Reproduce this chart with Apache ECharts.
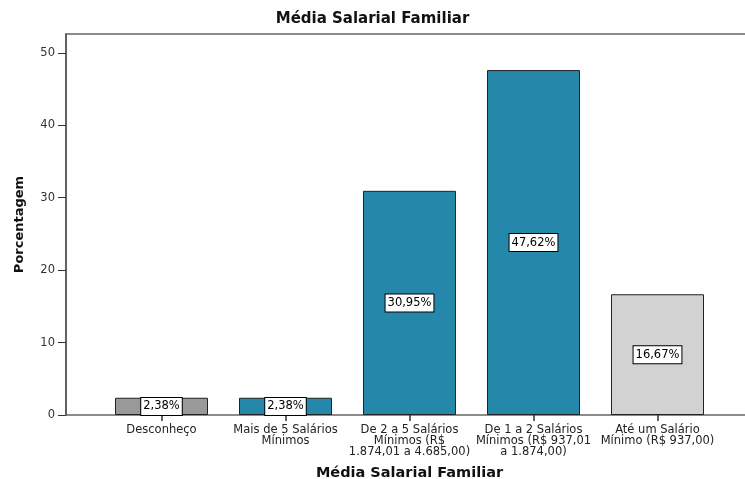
<!DOCTYPE html>
<html>
<head>
<meta charset="utf-8">
<script src="https://cdn.jsdelivr.net/npm/echarts@6/dist/echarts.min.js"></script>
<style>html,body{margin:0;padding:0;background:#fff}#c{width:745px;height:479px}</style>
</head>
<body>
<div id="c"></div>
<script>
const categories = [
  "Desconheço",
  "Mais de 5 Salários\nMínimos",
  "De 2 a 5 Salários\nMínimos (R$\n1.874,01 a 4.685,00)",
  "De 1 a 2 Salários\nMínimos (R$ 937,01\na 1.874,00)",
  "Até um Salário\nMínimo (R$ 937,00)"
];
const values = [2.38, 2.38, 30.95, 47.62, 16.67];
const yTicks = { min: 0, max: 52.6, interval: 10 };

const barColors = ["#999999", "#2588AA", "#2588AA", "#2588AA", "#D2D2D2"];
const font = "'DejaVu Sans', Arial, sans-serif";

const chart = echarts.init(document.getElementById('c'), null, { renderer: 'canvas' });
chart.setOption({
  animation: false,
  backgroundColor: '#ffffff',
  title: {
    text: 'Média Salarial Familiar',
    left: 'center', top: 7,
    textStyle: { fontFamily: font, fontSize: 15, fontWeight: 'bold', color: '#111' }
  },
  grid: [
    { left: 66, top: 34, width: 700, height: 381, show: true, borderColor: '#666', borderWidth: 1.5, backgroundColor: 'transparent', outerBoundsMode: 'none', containLabel: false },
    { left: 99.5, top: 34, width: 620, height: 381, outerBoundsMode: 'none', containLabel: false }
  ],
  xAxis: [
    { gridIndex: 0, type: 'value', show: false, min: 0, max: 1 },
    {
      gridIndex: 1, type: 'category', data: categories,
      axisLine: { show: false },
      axisTick: { show: true, alignWithLabel: true, length: 6, lineStyle: { color: '#333', width: 1.5 } },
      axisLabel: { interval: 0, fontFamily: font, fontSize: 11.5, lineHeight: 11, color: '#222', margin: 10 },
      name: 'Média Salarial Familiar', nameLocation: 'middle', nameGap: 51,
      nameTextStyle: { fontFamily: font, fontSize: 14.5, fontWeight: 'bold', color: '#111' }
    }
  ],
  yAxis: [
    {
      gridIndex: 0, type: 'value', min: yTicks.min, max: yTicks.max, interval: yTicks.interval,
      axisLine: { show: true, lineStyle: { color: '#555', width: 1.5 } },
      axisTick: { show: true, length: 8, lineStyle: { color: '#333' } },
      axisLabel: { fontFamily: font, fontSize: 11.5, color: '#333', margin: 11, showMaxLabel: false },
      splitLine: { show: false },
      name: 'Porcentagem', nameLocation: 'middle', nameGap: 40,
      nameTextStyle: { fontFamily: font, fontSize: 13, fontWeight: 'bold', color: '#111' }
    },
    { gridIndex: 1, type: 'value', min: yTicks.min, max: yTicks.max, show: false }
  ],
  series: [{
    type: 'bar', xAxisIndex: 1, yAxisIndex: 1,
    barWidth: 93,
    data: values.map((v, i) => ({ value: v, itemStyle: { color: barColors[i] } })),
    itemStyle: { borderColor: '#222', borderWidth: 1 },
    label: {
      show: true, position: 'inside',
      formatter: p => p.value.toFixed(2).replace('.', ',') + '%',
      fontFamily: font, fontSize: 11.5, color: '#000',
      backgroundColor: '#fff', borderColor: '#000', borderWidth: 1, padding: [3, 2, 2, 2]
    }
  }]
});
</script>
</body>
</html>
